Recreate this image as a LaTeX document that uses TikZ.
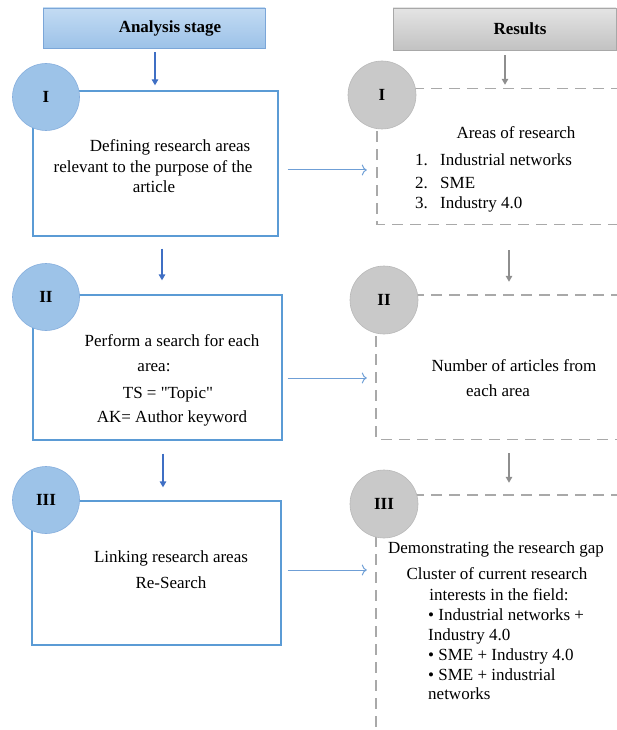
\documentclass[tikz,border=0pt]{standalone}
\usepackage{fontspec}
\setmainfont{Liberation Serif}
% same face without the TeX input mapping, for straight quotes
\newfontfamily\rawserif{Liberation Serif}
\usetikzlibrary{arrows.meta,calc}

\definecolor{framblue}{HTML}{5B9BD5}
\definecolor{headblueA}{HTML}{C3DBF3}
\definecolor{headblueB}{HTML}{9CC2E8}
\definecolor{headblueE}{HTML}{7BA6D8}
\definecolor{discblue}{HTML}{9DC3E8}
\definecolor{discblueE}{HTML}{86AEDD}
\definecolor{downblue}{HTML}{3F6FC4}
\definecolor{linkblue}{HTML}{6F9FD6}
\definecolor{headgrayA}{HTML}{E4E4E4}
\definecolor{headgrayB}{HTML}{C2C2C2}
\definecolor{headgrayE}{HTML}{A8A8A8}
\definecolor{discgray}{HTML}{C9C9C9}
\definecolor{discgrayE}{HTML}{B8B8B8}
\definecolor{dashgray}{HTML}{A9A9A9}
\definecolor{downgray}{HTML}{8E8E8E}

\begin{document}
\begin{tikzpicture}[x=1pt,y=-1pt,
  txt/.style={inner sep=0pt, font=\fontsize{17}{20}\selectfont},
  headblue/.style={draw=headblueE, line width=0.8pt, top color=headblueA, bottom color=headblueB,
    inner sep=0pt, font=\fontsize{17}{20}\selectfont\bfseries},
  headgray/.style={draw=headgrayE, line width=0.8pt, top color=headgrayA, bottom color=headgrayB,
    inner sep=0pt, font=\fontsize{17}{20}\selectfont\bfseries},
  stagebox/.style={draw=framblue, line width=1.3pt, fill=white, inner sep=0pt},
  resultarea/.style={inner sep=0pt},
  dashline/.style={draw=dashgray, line width=1.4pt, dash pattern=on 11pt off 7pt},
  bluedisc/.style={circle, fill=discblue, draw=discblueE, line width=0.6pt, minimum size=67pt,
    inner sep=0pt, font=\fontsize{17}{20}\selectfont\bfseries},
  graydisc/.style={circle, fill=discgray, draw=discgrayE, line width=0.6pt, minimum size=68pt,
    inner sep=0pt, font=\fontsize{17}{20}\selectfont\bfseries},
  downarrowblue/.style={draw=downblue, line width=1.3pt, -{Triangle[length=6pt,width=6.5pt]}},
  downarrowgray/.style={draw=downgray, line width=1.3pt, -{Triangle[length=6pt,width=6.5pt]}},
  linkarrow/.style={draw=linkblue, line width=1pt, -{To[length=5pt,width=11pt]}}
]
\useasboundingbox (0,0) rectangle (617,730);

% column headers
\node[headblue, minimum width=222pt, minimum height=40pt] (ha) at (154,28) {\hspace*{32pt}Analysis stage};
\node[headgray, minimum width=223pt, minimum height=42pt] (hr) at (504.5,29) {\hspace*{31pt}Results};

% analysis stage boxes
\node[stagebox, minimum width=245pt, minimum height=145pt] (b1) at (155.5,163.5) {};
\node[stagebox, minimum width=249pt, minimum height=145pt] (b2) at (157.5,367.5) {};
\node[stagebox, minimum width=249pt, minimum height=144pt] (b3) at (156.5,573) {};

% result areas (open to the right)
\node[resultarea, minimum width=263pt, minimum height=135pt] (r1) at (508.5,156.5) {};
\node[resultarea, minimum width=264pt, minimum height=144pt] (r2) at (508,367) {};
\node[resultarea, minimum width=264pt, minimum height=245pt] (r3) at (508,617.5) {};
\draw[dashline] (r1.north east) -- (r1.north west) -- (r1.south west) -- (r1.south east);
\draw[dashline] (r2.north east) -- (r2.north west) -- (r2.south west) -- (r2.south east);
\draw[dashline] (r3.north east) -- (r3.north west) -- (r3.south west);

% step discs
\node[bluedisc] (c1) at (46,97) {I};
\node[bluedisc] (c2) at (46,297) {II};
\node[bluedisc] (c3) at (46,500) {III};
\node[graydisc] (d1) at (382,95) {I};
\node[graydisc] (d2) at (384,300) {II};
\node[graydisc] (d3) at (384,504) {III};

% vertical flow
\coordinate (xa1) at (155,0);
\coordinate (xa2) at (162,0);
\coordinate (xa3) at (163,0);
\coordinate (xr1) at (505,0);
\coordinate (xr2) at (509,0);
\coordinate (xr3) at (509,0);
\draw[downarrowblue, shorten <=4pt, shorten >=5pt] (ha.south -| xa1) -- (b1.north -| xa1);
\draw[downarrowblue, shorten <=12pt, shorten >=14pt] (b1.south -| xa2) -- (b2.north -| xa2);
\draw[downarrowblue, shorten <=13pt, shorten >=13pt] (b2.south -| xa3) -- (b3.north -| xa3);
\draw[downarrowgray, shorten <=5pt, shorten >=4pt] (hr.south -| xr1) -- (r1.north -| xr1);
\draw[downarrowgray, shorten <=26pt, shorten >=13pt] (r1.south -| xr2) -- (r2.north -| xr2);
\draw[downarrowgray, shorten <=14pt, shorten >=12pt] (r2.south -| xr3) -- (r3.north -| xr3);

% links from each stage to its result
\coordinate (y1) at (0,170);
\coordinate (y2) at (0,378);
\coordinate (y3) at (0,570);
\draw[linkarrow, shorten <=9pt, shorten >=10pt] (b1.east |- y1) -- (r1.west |- y1);
\draw[linkarrow, shorten <=5pt, shorten >=9pt] (b2.east |- y2) -- (r2.west |- y2);
\draw[linkarrow, shorten <=6pt, shorten >=9pt] (b3.east |- y3) -- (r3.west |- y3);

% stage texts
\node[txt, anchor=base] (t1a) at (170,152) {Defining research areas};
\node[txt, anchor=base] (t1b) at (153,172) {relevant to the purpose of the};
\node[txt, anchor=base] (t1c) at (154,193) {article};

\node[txt, anchor=base] (t2a) at (172,346) {Perform a search for each};
\node[txt, anchor=base] (t2b) at (154,371) {area:};
\node[txt, anchor=base] (t2c) at (168,398) {TS = {\rawserif"}Topic{\rawserif"}};
\node[txt, anchor=base] (t2d) at (172,422) {AK= Author keyword};

\node[txt, anchor=base] (t3a) at (171,562) {Linking research areas};
\node[txt, anchor=base] (t3b) at (171,588) {Re-Search};

% result texts
\node[txt, anchor=base] (u1a) at (516,139) {Areas of research};
\node[txt, anchor=base west] (u1b) at (415,166) {\makebox[25pt][l]{1.}Industrial networks};
\node[txt, anchor=base west] (u1c) at (415,188) {\makebox[25pt][l]{2.}SME};
\node[txt, anchor=base west] (u1d) at (415,208) {\makebox[25pt][l]{3.}Industry 4.0};

\node[txt, anchor=base] (u2a) at (514,371) {Number of articles from};
\node[txt, anchor=base] (u2b) at (498,396) {each area};

\node[txt, anchor=base] (u3a) at (496,553) {Demonstrating the research gap};
\node[txt, anchor=base] (u3b) at (497,579) {Cluster of current research};
\node[txt, anchor=base] (u3c) at (499,600) {interests in the field:};
\node[txt, anchor=base west] (u3d) at (428,620) {\textbullet{} Industrial networks +};
\node[txt, anchor=base west] (u3e) at (428,640) {Industry 4.0};
\node[txt, anchor=base west] (u3f) at (428,660) {\textbullet{} SME + Industry 4.0};
\node[txt, anchor=base west] (u3g) at (428,680) {\textbullet{} SME + industrial};
\node[txt, anchor=base west] (u3h) at (428,699) {networks};
\end{tikzpicture}
\end{document}
